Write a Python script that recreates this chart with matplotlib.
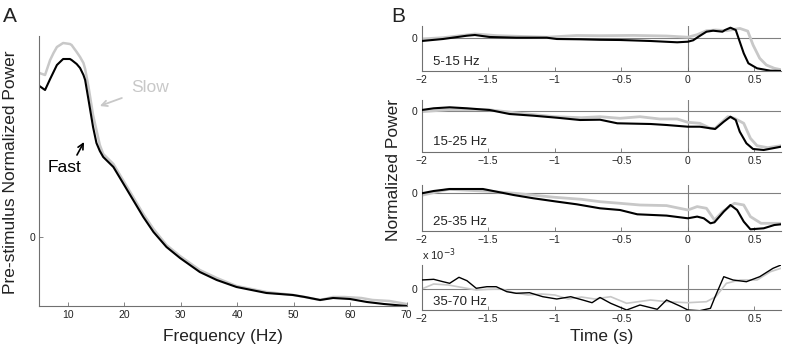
import matplotlib
matplotlib.use("Agg")
import matplotlib.pyplot as plt

plt.rcParams['font.family'] = ['Liberation Sans', 'DejaVu Sans']

# ---------------- Panel A data ----------------
freq_fast = [5.0, 6.0, 6.9, 7.5, 8.1, 9.2, 10.4, 10.7, 11.6, 12.2, 12.8, 13.1, 13.7, 14.5, 15.1, 15.7,
             16.3, 18.1, 19.8, 21.6, 23.4, 25.2, 27.5, 29.9, 33.4, 36.4, 39.9, 45.2, 49.9, 52.0,
             54.7, 57.0, 60.0, 63.0, 66.0, 70.0]
power_fast = [1.51, 1.47, 1.58, 1.65, 1.72, 1.78, 1.78, 1.77, 1.73, 1.69, 1.62, 1.57, 1.37, 1.10, 0.94, 0.86,
              0.80, 0.70, 0.54, 0.37, 0.20, 0.05, -0.10, -0.21, -0.35, -0.43, -0.50, -0.56, -0.58, -0.60,
              -0.63, -0.61, -0.62, -0.65, -0.67, -0.69]
freq_slow = [5.0, 6.0, 6.9, 7.5, 8.1, 9.2, 10.4, 10.7, 11.6, 12.2, 12.8, 13.1, 13.7, 14.5, 15.1, 15.7,
             16.3, 18.1, 19.8, 21.6, 23.4, 25.2, 27.5, 29.9, 33.4, 36.4, 39.9, 45.2, 49.9, 52.0,
             54.7, 57.0, 59.0, 62.0, 64.0, 67.0, 70.0]
power_slow = [1.64, 1.62, 1.77, 1.84, 1.90, 1.94, 1.93, 1.92, 1.85, 1.80, 1.74, 1.68, 1.50, 1.22, 1.07, 0.92,
              0.83, 0.73, 0.57, 0.40, 0.23, 0.08, -0.08, -0.19, -0.33, -0.41, -0.49, -0.55, -0.58, -0.60,
              -0.63, -0.60, -0.60, -0.61, -0.63, -0.64, -0.67]
freq_ticks = [10, 20, 30, 40, 50, 60, 70]

# ---------------- Panel B data ----------------
band_labels = ['5-15 Hz', '15-25 Hz', '25-35 Hz', '35-70 Hz']
time_ticks = [-2, -1.5, -1, -0.5, 0, 0.5]

t1_fast = [-2.0, -1.84, -1.66, -1.6, -1.49, -1.29, -1.06, -0.985, -0.81, -0.66, -0.51, -0.28, -0.08, 0.0,
           0.04, 0.08, 0.14, 0.19, 0.26, 0.28, 0.32, 0.36, 0.39, 0.42, 0.455, 0.52, 0.62, 0.7]
v1_fast = [-3.3, -1.3, 2.0, 2.7, 0.7, 0.0, 0.0, -1.3, -1.6, -2.1, -2.3, -3.3, -4.6, -4.0,
           -2.6, 1.0, 6.0, 7.0, 6.0, 7.7, 10.0, 7.7, -4.0, -15.6, -25.6, -30.6, -33.0, -33.3]
t1_slow = [-2.0, -1.84, -1.6, -1.43, -1.06, -0.835, -0.66, -0.41, -0.16, 0.0, 0.07, 0.14, 0.21, 0.29,
           0.39, 0.45, 0.49, 0.54, 0.59, 0.65, 0.7]
v1_slow = [-1.3, 0.0, 3.7, 2.0, 0.5, 2.2, 2.0, 2.3, 1.7, 0.5, 3.0, 7.0, 7.7, 7.0,
           9.3, 6.6, -7.3, -20.6, -27.3, -30.6, -32.0]

t2_fast = [-2.0, -1.91, -1.79, -1.66, -1.49, -1.34, -1.16, -0.985, -0.81, -0.66, -0.53, -0.28, -0.16, 0.0,
           0.09, 0.17, 0.205, 0.27, 0.32, 0.36, 0.39, 0.44, 0.49, 0.57, 0.7]
v2_fast = [0.7, 2.4, 3.4, 2.4, 0.7, -3.3, -5.0, -7.0, -9.3, -9.0, -12.6, -13.3, -14.3, -16.0,
           -16.0, -17.6, -18.3, -11.0, -6.0, -9.3, -21.0, -32.6, -38.3, -39.3, -36.0]
t2_slow = [-2.0, -1.8, -1.5, -1.3, -1.0, -0.8, -0.66, -0.51, -0.36, -0.21, -0.08, 0.0, 0.09, 0.17,
           0.205, 0.3, 0.35, 0.42, 0.47, 0.52, 0.6, 0.7]
v2_slow = [-1.0, 1.0, 1.0, -2.0, -6.0, -7.0, -6.0, -7.6, -6.0, -8.3, -8.3, -11.6, -12.6, -17.6,
           -17.6, -6.0, -7.6, -12.6, -27.6, -35.0, -37.0, -35.0]

t3_fast = [-2.0, -1.91, -1.79, -1.66, -1.54, -1.44, -1.31, -1.16, -0.985, -0.835, -0.66, -0.51, -0.38,
           -0.16, 0.0, 0.07, 0.12, 0.17, 0.2, 0.27, 0.32, 0.37, 0.42, 0.47, 0.57, 0.65, 0.7]
v3_fast = [0.0, 2.3, 4.3, 4.3, 4.3, 1.7, -1.7, -5.0, -8.3, -11.0, -15.0, -16.7, -21.0,
           -22.3, -25.0, -23.3, -25.0, -30.0, -29.0, -18.3, -11.7, -16.7, -28.3, -36.0, -35.0, -31.7, -31.0]
t3_slow = [-2.0, -1.8, -1.5, -1.3, -1.0, -0.8, -0.66, -0.51, -0.36, -0.16, 0.0, 0.07, 0.14, 0.2,
           0.26, 0.35, 0.42, 0.47, 0.55, 0.7]
v3_slow = [-2.0, 4.0, 2.0, 0.0, -4.0, -6.0, -8.4, -10.0, -11.7, -12.3, -16.7, -13.3, -15.0, -26.7,
           -18.3, -10.0, -11.7, -23.3, -30.0, -30.0]

t4_fast = [-2.0, -1.91, -1.84, -1.79, -1.72, -1.66, -1.59, -1.51, -1.44, -1.36, -1.29, -1.19, -1.09,
           -0.985, -0.88, -0.79, -0.72, -0.66, -0.58, -0.46, -0.36, -0.23, -0.16, -0.06, 0.0, 0.09,
           0.17, 0.205, 0.27, 0.34, 0.44, 0.54, 0.64, 0.7]
v4_fast = [0.9, 0.97, 0.73, 0.57, 1.17, 0.83, 0.07, 0.23, 0.23, -0.27, -0.43, -0.37, -0.77,
           -1.0, -0.77, -1.1, -1.37, -0.85, -1.43, -2.1, -1.6, -2.03, -1.1, -1.7, -2.1, -2.17,
           -1.93, -0.77, 1.23, 0.9, 0.73, 1.23, 2.07, 2.4]
t4_slow = [-2.0, -1.91, -1.8, -1.7, -1.59, -1.5, -1.4, -1.3, -1.2, -1.1, -1.0, -0.9, -0.8, -0.7,
           -0.58, -0.46, -0.28, -0.16, 0.0, 0.14, 0.21, 0.29, 0.39, 0.52, 0.62, 0.7]
v4_slow = [0.0, 0.5, 0.4, 0.16, -0.1, -0.03, 0.0, -0.4, -0.6, -0.5, -0.6, -1.0, -0.8, -1.0,
           -0.77, -1.43, -1.1, -1.27, -1.37, -1.27, -0.77, 0.57, 0.9, 0.9, 1.73, 2.07]

bands = [(t1_fast, v1_fast, t1_slow, v1_slow),
         (t2_fast, v2_fast, t2_slow, v2_slow),
         (t3_fast, v3_fast, t3_slow, v3_slow),
         (t4_fast, v4_fast, t4_slow, v4_slow)]

# ---------------- styling ----------------
W, H = 785, 353
GRAY = '#c8c8c8'
SPINE = '#707070'
TXT = '#222222'

fig = plt.figure(figsize=(W / 100, H / 100), dpi=100)


def px_axes(left, top, right, bottom):
    return fig.add_axes([left / W, 1 - bottom / H, (right - left) / W, (bottom - top) / H])


def style(ax, fs=7.5):
    for s in ['top', 'right']:
        ax.spines[s].set_visible(False)
    for s in ['left', 'bottom']:
        ax.spines[s].set_color(SPINE)
        ax.spines[s].set_linewidth(0.8)
    ax.tick_params(direction='in', length=3, width=0.6, color=SPINE, labelsize=fs,
                   labelcolor=TXT, pad=3)


# Panel A
axA = px_axes(39.4, 36, 406.5, 306)
axA.plot(freq_slow, power_slow, color=GRAY, lw=1.8, solid_capstyle='round')
axA.plot(freq_fast, power_fast, color='black', lw=1.5, solid_capstyle='round')
axA.set_xlim(5, 70)
axA.set_ylim(-0.69, 2.01)
axA.set_xticks(freq_ticks)
axA.set_yticks([0])
style(axA)
axA.set_xlabel('Frequency (Hz)', fontsize=12.5, color=TXT, labelpad=6)
fig.text(11 / W, 1 - 172 / H, 'Pre-stimulus Normalized Power', rotation=90, fontsize=12.5,
         color=TXT, ha='center', va='center')
axA.text(24.6, 1.5, 'Slow', color=GRAY, fontsize=12.5, ha='center', va='center')
axA.annotate('', xy=(15.7, 1.31), xytext=(19.6, 1.39),
             arrowprops=dict(arrowstyle='->', color=GRAY, lw=1.3, shrinkA=0, shrinkB=0))
axA.text(9.5, 0.69, 'Fast', color='black', fontsize=12.5, ha='center', va='center')
axA.annotate('', xy=(12.9, 0.95), xytext=(11.65, 0.82),
             arrowprops=dict(arrowstyle='->', color='black', lw=1.2, shrinkA=0, shrinkB=0))

# Panel B
rects = [(26, 71), (100, 151.5), (185, 230.5), (265, 309.5)]
ylims = [(-33.3, 11.7), (-40.8, 10.7), (-37.2, 8.3), (-2.05, 2.4)]
lws = [(2.0, 1.5), (2.0, 1.5), (2.0, 1.5), (1.2, 1.0)]
label_y = [0.21, 0.19, 0.19, 0.175]
for i, ((tf, vf, ts, vs), (top, bot)) in enumerate(zip(bands, rects)):
    ax = px_axes(421.7, top, 781, bot)
    ax.axhline(0, color='#808080', lw=0.8, zorder=1)
    ax.axvline(0, color='#808080', lw=0.8, zorder=1)
    ax.plot(ts, vs, color=GRAY, lw=lws[i][0], zorder=2)
    ax.plot(tf, vf, color='black', lw=lws[i][1], zorder=3)
    ax.set_xlim(-2, 0.7)
    ax.set_ylim(*ylims[i])
    ax.set_xticks(time_ticks)
    ax.set_xticklabels(['\u22122', '\u22121.5', '\u22121', '\u22120.5', '0', '0.5'])
    ax.set_yticks([0])
    style(ax)
    ax.text(0.031, label_y[i], band_labels[i], transform=ax.transAxes, fontsize=9.5,
            color=TXT, ha='left', va='center')
    if i == 3:
        ax.text(0.0, 1.04, 'x 10$^{-3}$', transform=ax.transAxes, fontsize=8,
                color=TXT, ha='left', va='bottom')
        ax.set_xlabel('Time (s)', fontsize=12.5, color=TXT, labelpad=4)

fig.text(393 / W, 1 - 170 / H, 'Normalized Power', rotation=90, fontsize=12.5,
         color=TXT, ha='center', va='center')
fig.text(3 / W, 1 - 17 / H, 'A', fontsize=15, color=TXT, ha='left', va='center')
fig.text(391 / W, 1 - 17 / H, 'B', fontsize=15, color=TXT, ha='left', va='center')

fig.savefig('out.png', dpi=100)
